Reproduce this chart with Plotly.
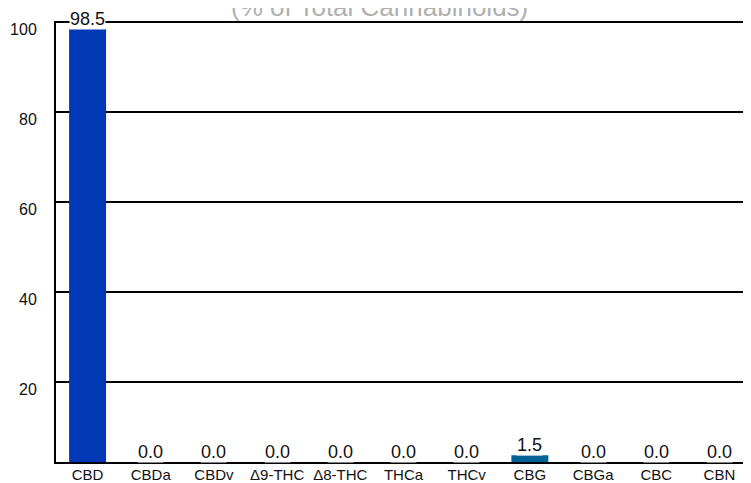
import plotly.graph_objects as go

categories = ["CBD", "CBDa", "CBDv", "Δ9-THC", "Δ8-THC", "THCa", "THCv", "CBG", "CBGa", "CBC", "CBN"]
values = [98.5, 0.0, 0.0, 0.0, 0.0, 0.0, 0.0, 1.5, 0.0, 0.0, 0.0]
bar_colors = ["#0038b6", "#0038b6", "#0038b6", "#0038b6", "#0038b6", "#0038b6",
              "#0038b6", "#006398", "#0038b6", "#0038b6", "#0038b6"]
y_ticks = [20, 40, 60, 80, 100]
subtitle = "(% of Total Cannabinoids)"

Y_MIN = 2.2
Y_MAX = 100.25
FONT = "Liberation Sans, Arial, sans-serif"

# small values are drawn up from the axis floor so they stay visible
bases = [0 if v >= Y_MIN else Y_MIN for v in values]

fig = go.Figure()
fig.add_trace(go.Bar(
    x=categories, y=values, base=bases,
    marker=dict(color=bar_colors, line=dict(width=0)),
    hoverinfo="skip",
))

for c, v, b in zip(categories, values, bases):
    fig.add_annotation(
        x=c, y=b + v, xref="x", yref="y",
        text=f"{v:.1f}", showarrow=False,
        yanchor="bottom", xanchor="center",
        font=dict(family=FONT, size=18, color="#111111"),
        bgcolor="white", borderpad=0, yshift=-1,
    )

fig.add_annotation(
    x=0.4655, y=1, xref="paper", yref="paper",
    text=subtitle, showarrow=False,
    xanchor="center", yanchor="bottom", yshift=-2, borderpad=0,
    font=dict(family=FONT, size=26, color="#b0b0b0"),
)

fig.update_layout(
    width=751, height=483,
    margin=dict(l=48, r=8, t=13, b=29, autoexpand=False),
    paper_bgcolor="white", plot_bgcolor="white",
    showlegend=False,
    bargap=0.415,
    font=dict(family=FONT, color="#111111"),
)
fig.update_xaxes(
    type="category",
    showline=True, linecolor="black", linewidth=2,
    showgrid=False, ticks="",
    tickfont=dict(family=FONT, size=15, color="#111111"),
    ticklabelstandoff=-2,
    automargin=False,
)
fig.update_yaxes(
    range=[Y_MIN, Y_MAX],
    tickvals=y_ticks,
    showline=True, linecolor="black", linewidth=2,
    showgrid=True, gridcolor="black", gridwidth=2,
    zeroline=False, ticks="",
    ticklabelshift=7, ticklabelstandoff=14,
    tickfont=dict(family=FONT, size=16, color="#111111"),
    automargin=False,
)

fig.write_html("out.html")
